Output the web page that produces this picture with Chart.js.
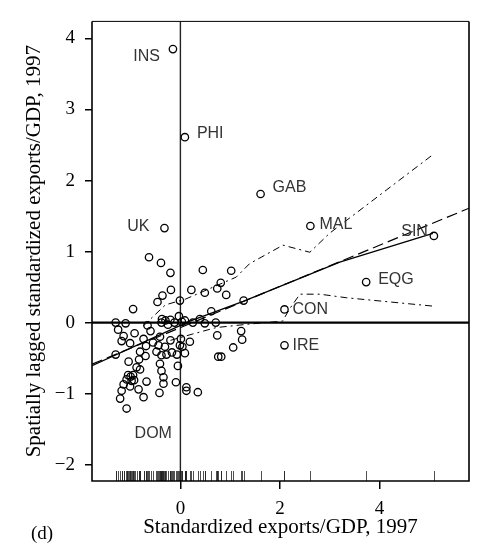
<!DOCTYPE html>
<html>
<head>
<meta charset="utf-8">
<script src="https://cdn.jsdelivr.net/npm/chart.js@4.4.1/dist/chart.umd.min.js"></script>
<style>
  html, body { margin: 0; padding: 0; background: #fff; }
  #wrap { width: 477px; height: 550px; }
</style>
</head>
<body>
<div id="wrap"><canvas id="chart"></canvas></div>
<script>
// Unlabelled countries: standardized exports/GDP (x) vs spatial lag (y)
const countryX = [
  -0.63, -0.39, -0.20, -0.19, -0.36, -0.46, -0.01, -0.95, -1.30, -1.10,
  -0.66, -0.37, -0.30, -0.20, -0.12, -0.38, -0.25, -0.03, 0.03, -1.25,
  -1.14, -1.18, -0.92, -1.01, -0.74, -0.69, -0.41, -0.44, -0.31, -0.17,
  -0.28, -0.07, -0.01, 0.01, -1.30, -0.81, -0.70, -1.04, -0.88, -0.81,
  -1.05, -1.00, -0.95, -1.08, -0.98, -0.93, -1.14, -1.01, -0.84, -0.68,
  -1.18, -1.21, -0.74, -0.41, -0.38, -0.34, -0.34, -0.42, -0.09, -0.05,
  -0.38, -0.48, -0.83, -0.20, -0.55, -0.60, 0.45, 1.02, 0.22, 0.49,
  0.74, 0.81, 0.92, 1.27, 0.62, 0.25, 0.39, 0.49, 0.71, 0.09,
  0.74, 1.22, 1.24, 1.06, 0.76, 0.82, 0.19, 0.04, 0.09, 0.12,
  0.12, 0.35
];
const countryY = [
  0.92, 0.84, 0.70, 0.46, 0.38, 0.29, 0.31, 0.19, 0.00, -0.01,
  -0.04, 0.05, 0.03, 0.04, 0.00, 0.00, -0.03, 0.09, 0.01, -0.10,
  -0.19, -0.26, -0.15, -0.29, -0.23, -0.33, -0.20, -0.32, -0.34, -0.42,
  -0.45, -0.45, -0.32, -0.23, -0.45, -0.41, -0.47, -0.55, -0.63, -0.66,
  -0.74, -0.76, -0.74, -0.80, -0.82, -0.81, -0.87, -0.90, -0.94, -0.83,
  -0.96, -1.07, -1.05, -0.58, -0.68, -0.77, -0.86, -0.99, -0.84, -0.61,
  -0.46, -0.41, -0.52, -0.25, -0.28, -0.12, 0.74, 0.73, 0.46, 0.42,
  0.48, 0.56, 0.39, 0.31, 0.16, 0.00, 0.05, -0.01, 0.00, 0.03,
  -0.18, -0.12, -0.24, -0.35, -0.48, -0.48, -0.27, -0.34, -0.43, -0.91,
  -0.96, -0.98
];

// Named outliers
const labelCodes = ['INS', 'PHI', 'UK', 'GAB', 'MAL', 'SIN', 'EQG', 'CON', 'IRE', 'DOM'];
const labelX = [-0.15, 0.09, -0.32, 1.61, 2.61, 5.09, 3.73, 2.09, 2.09, -1.08];
const labelY = [3.85, 2.61, 1.33, 1.81, 1.36, 1.22, 0.57, 0.185, -0.32, -1.21];

// Fitted lines
const regressionX = [-1.775, 5.795];
const regressionY = [-0.585, 1.61];
const smoothX = [-1.775, 0.19, 1.26, 3.2, 5.07];
const smoothY = [-0.607, 0.02, 0.30, 0.85, 1.255];
const upperX = [-0.75, -0.3, 0.1, 1.12, 1.39, 2.06, 2.6, 3.0, 5.1];
const upperY = [-0.05, 0.25, 0.33, 0.64, 0.83, 1.09, 0.99, 1.26, 2.38];
const lowerX = [-0.2, 0.25, 0.72, 1.39, 2.05, 2.2, 2.4, 2.8, 3.33, 5.1];
const lowerY = [-0.25, -0.16, -0.07, -0.02, 0.02, 0.2, 0.40, 0.40, 0.35, 0.23];

const xTicks = [0, 2, 4];
const yTicks = [-2, -1, 0, 1, 2, 3, 4];

const serif = "'Liberation Serif', 'Times New Roman', serif";
const sans = "'Liberation Sans', Arial, sans-serif";

// where each name sits relative to its circle
const labelPlacement = {
  INS: { dx: -13, dy: 7, align: 'right' },
  PHI: { dx: 12, dy: -4, align: 'left' },
  UK:  { dx: -15, dy: -2, align: 'right' },
  GAB: { dx: 12, dy: -6, align: 'left' },
  MAL: { dx: 9, dy: -1, align: 'left' },
  SIN: { dx: -6, dy: -4, align: 'right' },
  EQG: { dx: 12, dy: -3, align: 'left' },
  CON: { dx: 8, dy: 0, align: 'left' },
  IRE: { dx: 8, dy: 0, align: 'left' },
  DOM: { dx: 8, dy: 25, align: 'left' },
};

const toPoints = (xs, ys) => xs.map((x, i) => ({ x, y: ys[i] }));
const allX = countryX.concat(labelX);

// Frame, zero lines and rug
const framePlugin = {
  id: 'frame',
  beforeDatasetsDraw(chart) {
    const { ctx, chartArea: { left, right, top, bottom }, scales: { x, y } } = chart;
    ctx.save();
    const x0 = x.getPixelForValue(0);
    const y0 = y.getPixelForValue(0);
    ctx.lineWidth = 1.4;
    ctx.strokeStyle = '#222';
    ctx.beginPath();
    ctx.moveTo(x0, top);
    ctx.lineTo(x0, bottom);
    ctx.stroke();
    ctx.strokeStyle = '#000';
    ctx.lineWidth = 2.2;
    ctx.beginPath();
    ctx.moveTo(left, y0);
    ctx.lineTo(right, y0);
    ctx.stroke();
    // rug
    ctx.lineWidth = 0.8;
    ctx.strokeStyle = '#222';
    allX.forEach(v => {
      const px = Math.round(x.getPixelForValue(v)) + 0.5;
      ctx.beginPath();
      ctx.moveTo(px, bottom);
      ctx.lineTo(px, bottom - 10);
      ctx.stroke();
    });
    ctx.restore();
  },
  afterDraw(chart) {
    const { ctx, chartArea: { left, right, top, bottom } } = chart;
    ctx.save();
    ctx.strokeStyle = '#000';
    ctx.lineWidth = 1;
    ctx.beginPath();
    ctx.moveTo(left, top);
    ctx.lineTo(right, top);
    ctx.stroke();
    ctx.lineWidth = 1.6;
    ctx.beginPath();
    ctx.moveTo(right, top);
    ctx.lineTo(right, bottom);
    ctx.lineTo(left, bottom);
    ctx.lineTo(left, top);
    ctx.stroke();
    ctx.fillStyle = '#000';
    ctx.font = `19px ${serif}`;
    ctx.textAlign = 'left';
    ctx.textBaseline = 'middle';
    ctx.fillText('(d)', 31, 534);
    ctx.restore();
  },
};

const labelPlugin = {
  id: 'country-labels',
  afterDatasetsDraw(chart) {
    const { ctx, scales: { x, y } } = chart;
    ctx.save();
    ctx.font = `16px ${sans}`;
    ctx.fillStyle = '#333';
    ctx.textBaseline = 'middle';
    labelCodes.forEach((code, i) => {
      const p = labelPlacement[code];
      ctx.textAlign = p.align;
      ctx.fillText(code, x.getPixelForValue(labelX[i]) + p.dx, y.getPixelForValue(labelY[i]) + p.dy);
    });
    ctx.restore();
  },
};

const lineSet = (data, dash, width) => ({
  type: 'scatter',
  data,
  showLine: true,
  fill: false,
  tension: 0,
  borderColor: '#000',
  borderWidth: width,
  borderDash: dash,
  pointRadius: 0,
  pointHoverRadius: 0,
});

new Chart(document.getElementById('chart'), {
  type: 'scatter',
  plugins: [framePlugin, labelPlugin],
  data: {
    datasets: [
      {
        data: toPoints(countryX, countryY).concat(toPoints(labelX, labelY)),
        pointRadius: 3.7,
        pointBorderWidth: 1.3,
        pointBorderColor: '#000',
        pointBackgroundColor: 'rgba(0,0,0,0)',
      },
      lineSet(toPoints(regressionX, regressionY), [11, 5], 1.2),
      lineSet(toPoints(smoothX, smoothY), [], 1.3),
      lineSet(toPoints(upperX, upperY), [7, 4, 2, 4], 1),
      lineSet(toPoints(lowerX, lowerY), [7, 4, 2, 4], 1),
    ],
  },
  options: {
    responsive: true,
    maintainAspectRatio: false,
    animation: false,
    layout: { padding: { top: 9, right: 8, left: 0, bottom: 0 } },
    plugins: {
      legend: { display: false },
      tooltip: { enabled: false },
    },
    scales: {
      x: {
        type: 'linear',
        min: -1.775,
        max: 5.795,
        afterBuildTicks: s => { s.ticks = xTicks.map(v => ({ value: v })); },
        afterFit: s => { s.height = 69; },
        grid: { drawOnChartArea: false, tickLength: 8, color: '#000', lineWidth: 1.5 },
        border: { display: false },
        ticks: {
          color: '#000',
          font: { family: serif, size: 19 },
          padding: 9,
          maxRotation: 0,
          callback: v => String(v),
        },
        title: {
          display: true,
          text: 'Standardized exports/GDP, 1997',
          color: '#000',
          font: { family: serif, size: 21 },
          padding: { top: 0, bottom: 10 },
        },
      },
      y: {
        type: 'linear',
        min: -2.23,
        max: 4.24,
        afterBuildTicks: s => { s.ticks = yTicks.map(v => ({ value: v })); },
        afterFit: s => { s.width = 92; },
        grid: { drawOnChartArea: false, tickLength: 7, color: '#000', lineWidth: 1.5 },
        border: { display: false },
        ticks: {
          color: '#000',
          font: { family: serif, size: 19 },
          padding: 10,
          callback: v => (v < 0 ? '\u2212' + Math.abs(v) : String(v)),
        },
        title: {
          display: true,
          text: 'Spatially lagged standardized exports/GDP, 1997',
          color: '#000',
          font: { family: serif, size: 21 },
          padding: { top: 22, bottom: 0 },
        },
      },
    },
  },
});
</script>
</body>
</html>
